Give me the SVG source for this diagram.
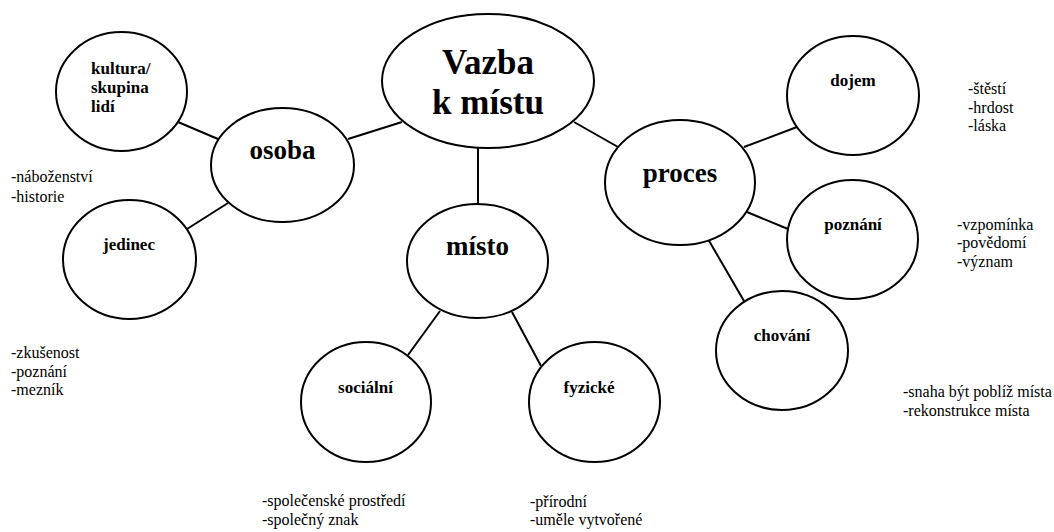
<svg xmlns="http://www.w3.org/2000/svg" width="1054" height="532" viewBox="0 0 1054 532" font-family="'Liberation Serif', 'Times New Roman', 'DejaVu Serif', serif">
<style>
.n ellipse{fill:#fff;stroke:#000;stroke-width:2}
.c line{stroke:#000;stroke-width:2}
text{font-family:"Liberation Serif","Times New Roman","DejaVu Serif",serif;fill:#000}
.t0{font-size:35px;font-weight:bold;text-anchor:middle}
.t1{font-size:27px;font-weight:bold;text-anchor:middle}
.t2{font-size:17px;font-weight:bold}
.m{text-anchor:middle}
.s{font-size:16px}
</style>
<rect width="1054" height="532" fill="#fff"/>
<g id="connectors" class="c">
<line x1="178" y1="122" x2="218" y2="139"/>
<line x1="228" y1="203" x2="187" y2="229"/>
<line x1="348" y1="139" x2="402" y2="122"/>
<line x1="478" y1="148" x2="478" y2="204"/>
<line x1="574" y1="122" x2="618" y2="147"/>
<line x1="744" y1="147" x2="797" y2="127"/>
<line x1="747" y1="212" x2="788" y2="229"/>
<line x1="708" y1="239" x2="744" y2="301"/>
<line x1="440" y1="311" x2="408" y2="355"/>
<line x1="512" y1="312" x2="541" y2="366"/>
</g>
<g id="vazba" class="n"><ellipse cx="488" cy="81" rx="106" ry="67"/><text class="t0" x="488" y="74">Vazba</text><text class="t0" x="488" y="114">k místu</text></g>
<g id="osoba" class="n"><ellipse cx="282.5" cy="165" rx="71.5" ry="57"/><text class="t1" x="282.5" y="159">osoba</text></g>
<g id="misto" class="n"><ellipse cx="477.5" cy="261" rx="70.5" ry="57"/><text class="t1" x="477.5" y="255">místo</text></g>
<g id="proces" class="n"><ellipse cx="680" cy="182.5" rx="75" ry="62.5"/><text class="t1" x="680" y="182">proces</text></g>
<g id="kultura" class="n"><ellipse cx="121.5" cy="91.5" rx="65.5" ry="59.5"/><text class="t2" x="91" y="74">kultura/</text><text class="t2" x="91" y="93">skupina</text><text class="t2" x="91" y="112">lidí</text></g>
<g id="jedinec" class="n"><ellipse cx="129.5" cy="259.5" rx="66.5" ry="59.5"/><text class="t2 m" x="129" y="250">jedinec</text></g>
<g id="dojem" class="n"><ellipse cx="853" cy="95.5" rx="66" ry="59.5"/><text class="t2 m" x="853" y="86">dojem</text></g>
<g id="poznani" class="n"><ellipse cx="852.5" cy="239.5" rx="65.5" ry="59.5"/><text class="t2 m" x="853" y="230">poznání</text></g>
<g id="chovani" class="n"><ellipse cx="782" cy="350.5" rx="66" ry="59.5"/><text class="t2 m" x="782" y="341">chování</text></g>
<g id="socialni" class="n"><ellipse cx="366" cy="402" rx="65" ry="60"/><text class="t2 m" x="365.5" y="393">sociální</text></g>
<g id="fyzicke" class="n"><ellipse cx="594.5" cy="402" rx="65.5" ry="60"/><text class="t2 m" x="589" y="393">fyzické</text></g>
<g id="notes" class="s">
<text x="11" y="182">-náboženství</text><text x="11" y="202">-historie</text>
<text x="11" y="358">-zkušenost</text><text x="11" y="377">-poznání</text><text x="11" y="395">-mezník</text>
<text x="968" y="94">-štěstí</text><text x="968" y="113">-hrdost</text><text x="968" y="131">-láska</text>
<text x="957" y="230">-vzpomínka</text><text x="957" y="248">-povědomí</text><text x="957" y="267">-význam</text>
<text x="903" y="397">-snaha být poblíž místa</text><text x="903" y="416">-rekonstrukce místa</text>
<text x="262" y="506">-společenské prostředí</text><text x="262" y="525">-společný znak</text>
<text x="530" y="507">-přírodní</text><text x="530" y="525">-uměle vytvořené</text>
</g>
</svg>
